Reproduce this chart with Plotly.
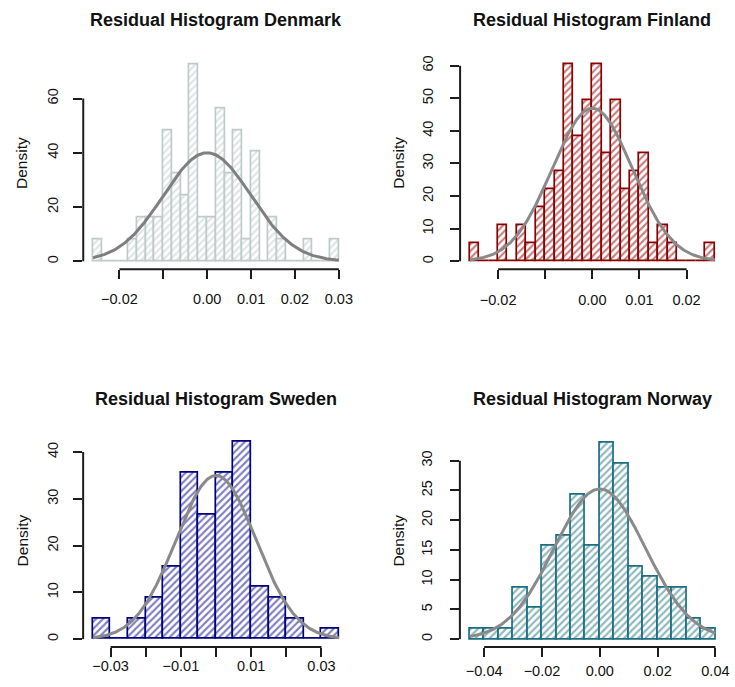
import numpy as np
import plotly.graph_objects as go

W, H = 735, 687

# ---- data: histogram densities per bin, bin layout, fitted normal parameters ----
countries = ["Denmark", "Finland", "Sweden", "Norway"]

dk_bin_start, dk_bin_width = -0.026, 0.002
dk_density = [8.06, 0, 0, 0, 8.06, 16.13, 16.13, 16.13, 48.39, 32.26, 24.19, 72.58,
              16.13, 16.13, 56.45, 32.26, 48.39, 8.06, 40.32, 0, 16.13, 8.06, 0, 0,
              8.06, 0, 0, 8.06]
dk_mean, dk_sd = 0.0, 0.00997

fi_bin_start, fi_bin_width = -0.026, 0.002
fi_density = [5.49, 0, 0, 10.99, 0, 10.99, 5.49, 16.48, 21.98, 27.47, 60.44, 38.46,
              49.45, 60.44, 32.97, 49.45, 21.98, 27.47, 32.97, 5.49, 10.99, 5.49, 0, 0,
              0, 5.49]
fi_mean, fi_sd = 0.0, 0.0085

se_bin_start, se_bin_width = -0.035, 0.005
se_density = [4.44, 0, 4.44, 8.89, 15.56, 35.56, 26.67, 35.56, 42.22, 11.11, 8.89,
              4.44, 0, 2.22]
se_mean, se_sd = 0.0, 0.0114

no_bin_start, no_bin_width = -0.045, 0.005
no_density = [1.74, 1.74, 1.74, 8.70, 5.22, 15.65, 17.39, 24.35, 15.65, 33.04, 29.57,
              12.17, 10.43, 8.70, 8.70, 3.48, 1.74]
no_mean, no_sd = 0.0, 0.0158

dk_xticks = [-0.02, -0.01, 0.0, 0.01, 0.02, 0.03]
dk_xlabels = ["−0.02", "", "0.00", "0.01", "0.02", "0.03"]
fi_xticks = [-0.02, -0.01, 0.0, 0.01, 0.02]
fi_xlabels = ["−0.02", "", "0.00", "0.01", "0.02"]
se_xticks = [-0.03, -0.02, -0.01, 0.0, 0.01, 0.02, 0.03]
se_xlabels = ["−0.03", "", "−0.01", "", "0.01", "", "0.03"]
no_xticks = [-0.04, -0.02, 0.0, 0.02, 0.04]
no_xlabels = ["−0.04", "−0.02", "0.00", "0.02", "0.04"]

dk_yticks = [0, 20, 40, 60]
fi_yticks = [0, 10, 20, 30, 40, 50, 60]
se_yticks = [0, 10, 20, 30, 40]
no_yticks = [0, 5, 10, 15, 20, 25, 30]

# ---- styling / layout per panel ----
FONT = "Liberation Sans, Arial, sans-serif"
AXIS_COL = "#1c1c1c"
CURVE_COL = "#8a8a8a"
TEXT_COL = "#111111"

panels = [
    dict(name="Denmark", start=dk_bin_start, width=dk_bin_width, dens=dk_density,
         mean=dk_mean, sd=dk_sd, xt=dk_xticks, xl=dk_xlabels, yt=dk_yticks,
         color="#bfcacb", box=(83.7, 350.6, 55.6, 268.6), xstand=7, ystand=9,
         title_y=18.8, curve_col="#7f7f7f"),
    dict(name="Finland", start=fi_bin_start, width=fi_bin_width, dens=fi_density,
         mean=fi_mean, sd=fi_sd, xt=fi_xticks, xl=fi_xlabels, yt=fi_yticks,
         color="#8b0000", box=(462.6, 728.6, 55.4, 268.6), xstand=8, ystand=11,
         title_y=18.8, curve_col=CURVE_COL),
    dict(name="Sweden", start=se_bin_start, width=se_bin_width, dens=se_density,
         mean=se_mean, sd=se_sd, xt=se_xticks, xl=se_xlabels, yt=se_yticks,
         color="#000080", box=(83.6, 350.8, 433.4, 647.0), xstand=-3, ystand=9,
         title_y=398.8, curve_col=CURVE_COL),
    dict(name="Norway", start=no_bin_start, width=no_bin_width, dens=no_density,
         mean=no_mean, sd=no_sd, xt=no_xticks, xl=no_xlabels, yt=no_yticks,
         color="#1b6f80", box=(462.4, 729.2, 434.3, 647.0), xstand=2, ystand=12,
         title_y=398.8, curve_col=CURVE_COL),
]

fig = go.Figure()
layout = {}
shapes = []
annotations = []

for i, p in enumerate(panels):
    k = "" if i == 0 else str(i + 1)
    xa, ya = "x" + k, "y" + k
    n = len(p["dens"])
    edges = p["start"] + p["width"] * np.arange(n + 1)
    centers = (edges[:-1] + edges[1:]) / 2

    fig.add_trace(go.Bar(
        x=centers, y=p["dens"], width=p["width"], xaxis=xa, yaxis=ya,
        marker=dict(color="white", line=dict(color=p["color"], width=1.7),
                    pattern=dict(shape="/", fgcolor=p["color"], bgcolor="white",
                                 size=5, solidity=0.42)),
        showlegend=False, hoverinfo="skip"))

    xs = np.linspace(edges[0], edges[-1], 300)
    ys = np.exp(-0.5 * ((xs - p["mean"]) / p["sd"]) ** 2) / (p["sd"] * np.sqrt(2 * np.pi))
    fig.add_trace(go.Scatter(x=xs, y=ys, mode="lines", xaxis=xa, yaxis=ya,
                             line=dict(color=p["curve_col"], width=3),
                             showlegend=False, hoverinfo="skip"))

    span = edges[-1] - edges[0]
    ymax = max(p["dens"])
    x0, x1, top, bot = p["box"]
    xdom = [x0 / W, x1 / W]
    ydom = [1 - bot / H, 1 - top / H]

    layout["xaxis" + k] = dict(
        domain=xdom, anchor=ya, range=[edges[0] - 0.04 * span, edges[-1] + 0.04 * span],
        showgrid=False, zeroline=False, showline=False, ticks="outside", ticklen=9,
        tickwidth=1.8, tickcolor=AXIS_COL, tickvals=p["xt"], ticktext=p["xl"],
        tickfont=dict(family=FONT, size=14.5, color=TEXT_COL),
        ticklabelstandoff=p["xstand"], fixedrange=True)
    layout["yaxis" + k] = dict(
        domain=ydom, anchor=xa, range=[-0.04 * ymax, 1.04 * ymax],
        showgrid=False, zeroline=False, showline=False, ticks="outside", ticklen=9,
        tickwidth=1.8, tickcolor=AXIS_COL, tickvals=p["yt"],
        ticktext=[str(v) for v in p["yt"]], tickangle=-90,
        tickfont=dict(family=FONT, size=14.5, color=TEXT_COL),
        ticklabelstandoff=p["ystand"], fixedrange=True)

    # R-style axis lines spanning first to last tick only
    shapes.append(dict(type="line", xref=xa, yref=ya + " domain",
                       x0=p["xt"][0], x1=p["xt"][-1], y0=0, y1=0,
                       line=dict(color=AXIS_COL, width=2)))
    shapes.append(dict(type="line", xref=xa + " domain", yref=ya,
                       x0=0, x1=0, y0=p["yt"][0], y1=p["yt"][-1],
                       line=dict(color=AXIS_COL, width=2)))

    annotations.append(dict(
        text="<b>Residual Histogram %s</b>" % p["name"], xref="paper", yref="paper",
        x=(x0 + x1) / 2 / W, y=1 - p["title_y"] / H, xanchor="center", yanchor="middle",
        showarrow=False, font=dict(family=FONT, size=18, color=TEXT_COL)))
    annotations.append(dict(
        text="Density", xref="paper", yref="paper", x=(x0 - 61.5) / W,
        y=1 - (top + bot) / 2 / H, xanchor="center", yanchor="middle", textangle=-90,
        showarrow=False, font=dict(family=FONT, size=15.5, color=TEXT_COL)))

fig.update_layout(
    width=W, height=H, margin=dict(l=0, r=0, t=0, b=0),
    paper_bgcolor="white", plot_bgcolor="white", bargap=0,
    shapes=shapes, annotations=annotations, **layout)

fig.write_html("out.html", config={"displayModeBar": False})
